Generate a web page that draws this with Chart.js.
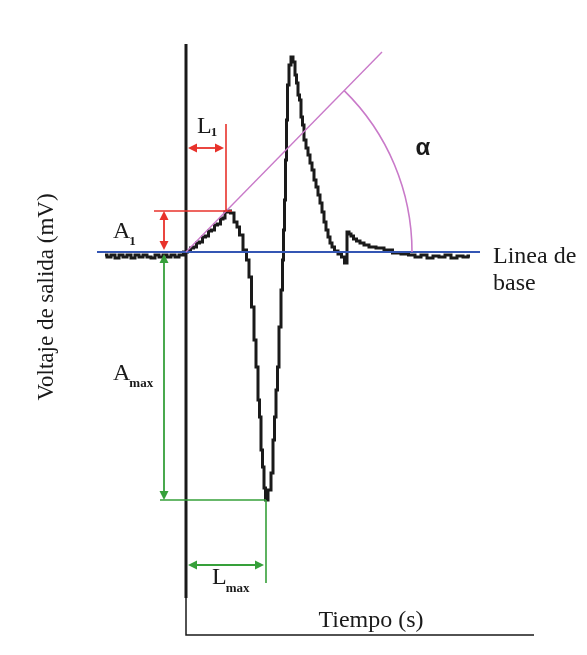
<!DOCTYPE html>
<html>
<head>
<meta charset="utf-8">
<script src="https://cdn.jsdelivr.net/npm/chart.js@4.4.1/dist/chart.umd.min.js"></script>
<style>
  html, body { margin: 0; padding: 0; background: #fff; }
  canvas { display: block; }
</style>
</head>
<body>
<canvas id="chart" width="587" height="655"></canvas>
<script>
// Evoked response, time in ms from the stimulus, voltage in mV from the baseline
const traceTime = [
  -4.05, -3.85, -3.65, -3.45, -3.25, -3.05, -2.85, -2.65, -2.45, -2.25, -2.05,
  -1.85, -1.65, -1.45, -1.25, -1.05, -0.85, -0.65, -0.45, -0.25, 0,
  0.15, 0.3, 0.45, 0.6, 0.75, 0.9, 1.05, 1.2, 1.35, 1.5, 1.65, 1.8, 1.9, 2.0, 2.15,
  2.3, 2.5, 2.6, 2.75, 2.95, 3.1, 3.2, 3.35, 3.45, 3.55, 3.65, 3.7, 3.8, 3.85, 3.95, 4.0,
  4.2, 4.3, 4.4, 4.45, 4.55, 4.6, 4.7, 4.8, 4.85, 4.9, 4.95, 5.0, 5.05, 5.1, 5.2, 5.3,
  5.4, 5.5, 5.55, 5.65, 5.7, 5.8, 5.85, 5.95, 6.05, 6.15, 6.25, 6.35, 6.45, 6.55,
  6.65, 6.75, 6.85, 6.95, 7.05, 7.15, 7.25, 7.35, 7.5, 7.7, 7.85, 8.0,
  8.1, 8.2, 8.3, 8.45, 8.6, 8.8, 9.0, 9.3, 9.7, 10.1, 10.55, 10.95, 11.3,
  11.6, 11.9, 12.2, 12.5, 12.8, 13.1, 13.4, 13.7, 14.0, 14.2
];
const traceVolt = [
  -0.03, -0.05, -0.03, -0.06, -0.03, -0.05, -0.03, -0.06, -0.03, -0.05, -0.03,
  -0.05, -0.06, -0.03, -0.05, -0.03, -0.05, -0.03, -0.05, -0.03, 0,
  0.01, 0.04, 0.05, 0.09, 0.10, 0.15, 0.16, 0.21, 0.22, 0.27, 0.28, 0.33, 0.34, 0.40, 0.41,
  0.39, 0.30, 0.25, 0.17, 0.02, -0.08, -0.25, -0.55, -0.88, -1.15, -1.48, -1.65, -1.98, -2.15, -2.36, -2.48,
  -2.38, -2.21, -1.88, -1.65, -1.38, -1.15, -0.75, -0.38, -0.08, 0.22, 0.52, 0.92, 1.32, 1.67, 1.87, 1.95,
  1.90, 1.77, 1.69, 1.57, 1.52, 1.35, 1.27, 1.12, 1.04, 0.97, 0.89, 0.82, 0.72, 0.65,
  0.57, 0.49, 0.40, 0.30, 0.22, 0.15, 0.09, 0.05, 0.01, -0.02, -0.05, -0.11,
  0.20, 0.18, 0.16, 0.13, 0.11, 0.09, 0.07, 0.05, 0.04, 0.02, -0.01, -0.02, -0.03,
  -0.05, -0.03, -0.06, -0.04, -0.05, -0.03, -0.06, -0.04, -0.05, -0.04
];

// measured parameters
const A1 = 0.41, L1 = 2.0;       // first deflection
const AMAX = -2.48, LMAX = 4.0;  // maximum deflection

// reference lines
const baseTime = [-4.45, 14.7];
const baseVolt = [0, 0];
const slopeTime = [0, 9.8];
const slopeVolt = [0, 2.0];
const arcEndTime = 11.3;
const stimTime = [0, 0];
const stimVolt = [2.08, -3.46];
const axisTime = [0, 0, 17.4];
const axisVolt = [-3.46, -3.83, -3.83];

const RED = '#e8322b', GREEN = '#36a03a', PINK = '#c97ac9', BLUE = '#3456b4', INK = '#1a1a1a';

const pts = (ts, vs) => ts.map((t, i) => ({ x: t, y: vs[i] }));

function lineSet(data, color, width, order, extra) {
  return Object.assign({ data, showLine: true, borderColor: color, borderWidth: width,
           pointRadius: 0, tension: 0, fill: false, clip: false, order }, extra || {});
}

// double arrows: [t1, v1, t2, v2, colour]
const arrows = [
  [-1.1, A1, -1.1, 0.02, RED],
  [0.1, 1.04, L1 - 0.1, 1.04, RED],
  [-1.1, -0.02, -1.1, AMAX, GREEN],
  [0.1, -3.13, LMAX - 0.1, -3.13, GREEN],
];

const annotations = {
  id: 'annotations',
  afterDatasetsDraw(chart) {
    const { ctx, scales: { x, y } } = chart;
    ctx.save();

    // angle arc between baseline and slope line
    const cx = x.getPixelForValue(0), cy = y.getPixelForValue(0);
    const r = x.getPixelForValue(arcEndTime) - cx;
    const ang = Math.atan2(y.getPixelForValue(slopeVolt[1]) - cy, x.getPixelForValue(slopeTime[1]) - cx);
    ctx.strokeStyle = PINK;
    ctx.lineWidth = 1.6;
    ctx.beginPath();
    ctx.arc(cx, cy, r, ang, 0);
    ctx.stroke();

    // arrows
    arrows.forEach(([t1, v1, t2, v2, color]) => {
      const x1 = x.getPixelForValue(t1), y1 = y.getPixelForValue(v1);
      const x2 = x.getPixelForValue(t2), y2 = y.getPixelForValue(v2);
      const a = Math.atan2(y2 - y1, x2 - x1);
      const c = Math.cos(a), s = Math.sin(a);
      const len = 9, half = 4.5;
      ctx.strokeStyle = color;
      ctx.fillStyle = color;
      ctx.lineWidth = 1.8;
      ctx.beginPath();
      ctx.moveTo(x1 + c * len, y1 + s * len);
      ctx.lineTo(x2 - c * len, y2 - s * len);
      ctx.stroke();
      [[x1, y1, 1], [x2, y2, -1]].forEach(([px, py, d]) => {
        const bx = px + d * c * len, by = py + d * s * len;
        ctx.beginPath();
        ctx.moveTo(px, py);
        ctx.lineTo(bx - s * half, by + c * half);
        ctx.lineTo(bx + s * half, by - c * half);
        ctx.closePath();
        ctx.fill();
      });
    });

    // text labels
    ctx.fillStyle = INK;
    ctx.textBaseline = 'alphabetic';
    function label(main, sub, t, v, drop) {
      const px = x.getPixelForValue(t), py = y.getPixelForValue(v);
      ctx.font = '24px "Liberation Serif"';
      ctx.textAlign = 'left';
      ctx.fillText(main, px, py);
      if (sub) {
        const w = ctx.measureText(main).width;
        ctx.font = 'bold 13px "Liberation Serif"';
        ctx.fillText(sub, px + w - 1, py + drop);
      }
    }
    label('L', '1', 0.55, 1.19, 3);
    label('A', '1', -3.65, 0.14, 7);
    label('A', 'max', -3.65, -1.28, 7);
    label('L', 'max', 1.3, -3.32, 8);
    label('Linea de', '', 15.35, -0.11, 0);
    label('base', '', 15.35, -0.38, 0);

    ctx.font = '24px "Liberation Serif"';
    ctx.textAlign = 'center';
    ctx.fillText('Tiempo (s)', x.getPixelForValue(9.25), y.getPixelForValue(-3.75));

    ctx.font = 'bold 24px "Liberation Sans"';
    ctx.textBaseline = 'middle';
    ctx.fillText('\u03b1', x.getPixelForValue(11.85), y.getPixelForValue(1.04));

    ctx.translate(x.getPixelForValue(-6.95), y.getPixelForValue(-0.45));
    ctx.rotate(-Math.PI / 2);
    ctx.font = '23px "Liberation Serif"';
    ctx.fillText('Voltaje de salida (mV)', 0, 0);

    ctx.restore();
  }
};

new Chart(document.getElementById('chart'), {
  type: 'scatter',
  data: {
    datasets: [
      lineSet(pts([-1.6, 2.3], [A1, A1]), RED, 1.6, 0),
      lineSet(pts([L1, L1], [A1, 1.28]), RED, 1.6, 0),
      lineSet(pts([-1.3, LMAX], [AMAX, AMAX]), GREEN, 1.6, 0),
      lineSet(pts([LMAX, LMAX], [AMAX, -3.31]), GREEN, 1.6, 0),
      lineSet(pts(slopeTime, slopeVolt), PINK, 1.4, 1),
      lineSet(pts(baseTime, baseVolt), BLUE, 1.8, 2),
      lineSet(pts(stimTime, stimVolt), INK, 3, 3),
      lineSet(pts(axisTime, axisVolt), INK, 1.5, 3),
      lineSet(pts(traceTime, traceVolt), INK, 3, 4, { stepped: 'middle', borderJoinStyle: 'miter' }),
    ]
  },
  options: {
    responsive: false,
    animation: false,
    events: [],
    layout: { padding: 0 },
    plugins: { legend: { display: false }, tooltip: { enabled: false } },
    scales: {
      x: { type: 'linear', display: false, min: -9.3, max: 20.05 },
      y: { type: 'linear', display: false, min: -4.03, max: 2.52 }
    }
  },
  plugins: [annotations]
});
</script>
</body>
</html>
